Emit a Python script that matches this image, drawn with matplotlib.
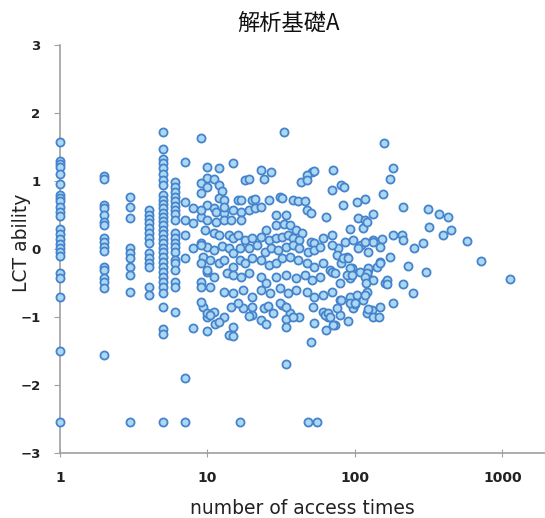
import numpy as np
import matplotlib
matplotlib.use("Agg")
import matplotlib.pyplot as plt
from matplotlib.ticker import FixedLocator, NullLocator

# students with few accesses (integer counts line up in columns)
ability_1 = [1.58, 1.30, 1.25, 1.20, 1.10, 0.95, 0.80, 0.75, 0.70, 0.62, 0.55, 0.48,
             0.30, 0.22, 0.15, 0.08, 0.02, -0.05, -0.10, -0.35, -0.42, -0.70, -1.50, -2.55]
ability_2 = [1.07, 1.03, 0.65, 0.60, 0.50, 0.40, 0.35, 0.16, 0.10, 0.03, -0.03,
             -0.26, -0.31, -0.43, -0.48, -0.57, -1.56]
ability_3 = [0.76, 0.62, 0.45, 0.01, -0.06, -0.13, -0.26, -0.38, -0.63, -2.55]
ability_4 = [0.57, 0.50, 0.44, 0.38, 0.31, 0.24, 0.16, 0.09, -0.06, -0.13, -0.20,
             -0.26, -0.56, -0.68]
ability_5 = [1.72, 1.47, 1.32, 1.26, 1.19, 1.10, 1.01, 0.94, 0.79, 0.72, 0.66, 0.60,
             0.53, 0.47, 0.41, 0.35, 0.28, 0.22, 0.15, 0.09, 0.01, -0.04, -0.12,
             -0.19, -0.26, -0.34, -0.41, -0.49, -0.56, -0.65, -0.85, -1.18, -1.25, -2.55]
ability_6 = [0.98, 0.91, 0.84, 0.76, 0.70, 0.63, 0.57, 0.51, 0.43, 0.24, 0.16, 0.09,
             0.03, -0.04, -0.16, -0.21, -0.31, -0.49, -0.56, -0.93]
ability_7 = [1.28, 0.69, 0.43, 0.21, -0.13, -1.90, -2.55]
ability_8 = [0.60, 0.38, 0.01, -1.16]

# students with more accesses: (access count, ability)
others = [
    (9, 1.64), (33, 1.72), (157, 1.56), (10, 1.21), (12, 1.19), (15, 1.26), (23, 1.16),
    (27, 1.13), (51, 1.13), (53, 1.15), (47, 1.09), (71, 1.16), (181, 1.19), (173, 1.03),
    (18, 1.01), (19, 1.03), (24, 1.03), (43, 0.99), (47, 1.01), (70, 0.87), (81, 0.94),
    (84, 0.91), (155, 0.81), (10, 1.04), (11, 1.03), (9, 0.97), (10, 0.91), (12, 0.94),
    (12.5, 0.85), (12, 0.75), (13, 0.72), (16, 0.72), (17, 0.72), (20, 0.72), (21, 0.74),
    (26, 0.72), (31, 0.76), (32, 0.75), (38, 0.72), (41, 0.71), (46, 0.71), (83, 0.65),
    (103, 0.69), (117, 0.74), (10, 0.65), (11, 0.60), (11.5, 0.54), (13, 0.53), (13, 0.62),
    (15, 0.57), (17, 0.54), (19, 0.57), (21, 0.60), (23, 0.62), (29, 0.50), (34, 0.50),
    (47, 0.57), (50, 0.53), (64, 0.47), (105, 0.46), (117, 0.43), (132, 0.51), (9, 0.47),
    (10, 0.43), (11.5, 0.40), (13, 0.43), (14.5, 0.43), (17, 0.43), (25, 0.28), (29, 0.35),
    (33, 0.37), (36, 0.35), (40, 0.28), (44, 0.24), (92, 0.29), (113, 0.31), (120, 0.40),
    (181, 0.21), (152, 0.15), (9.6, 0.28), (11, 0.24), (12, 0.21), (14, 0.21), (15, 0.16),
    (16, 0.21), (18, 0.13), (20, 0.16), (23, 0.18), (26, 0.13), (29, 0.16), (32, 0.18),
    (35, 0.21), (38, 0.16), (42, 0.13), (50, 0.10), (53, 0.09), (61, 0.16), (70, 0.21),
    (77, 0.01), (86, 0.10), (97, 0.13), (110, 0.06), (132, 0.13), (9, 0.09), (10, 0.03),
    (11, -0.01), (12.5, 0.04), (14, 0.01), (15, -0.06), (16.6, 0.01), (19, 0.01),
    (21.5, 0.06), (24.5, -0.04), (27, 0.01), (30, -0.01), (34, 0.03), (38, 0.06),
    (42, 0.01), (48, -0.04), (53, -0.01), (58, 0.03), (70, 0.06), (75, -0.09), (88, -0.12),
    (105, 0.01), (122, -0.04), (148, 0.03), (173, -0.12), (9.3, -0.12), (10.4, -0.16),
    (12, -0.21), (13, -0.16), (15, -0.26), (16.6, -0.16), (18, -0.21), (20, -0.13),
    (23, -0.16), (26, -0.24), (29, -0.21), (32, -0.13), (36, -0.12), (41, -0.16),
    (47, -0.21), (53, -0.26), (61, -0.21), (68, -0.31), (81, -0.21), (95, -0.28),
    (108, -0.34), (122, -0.31), (140, -0.26), (148, -0.19), (10, -0.34), (11, -0.41),
    (13.5, -0.35), (15, -0.38), (17, -0.41), (19, -0.35), (23, -0.41), (25, -0.50),
    (29, -0.41), (34, -0.38), (40, -0.43), (46, -0.38), (51, -0.46), (58, -0.41),
    (70, -0.34), (79, -0.50), (92, -0.43), (120, -0.38), (132, -0.46), (160, -0.50),
    (9, -0.49), (10.4, -0.56), (13, -0.63), (15, -0.65), (17.4, -0.60), (20, -0.71),
    (23, -0.60), (26.5, -0.65), (31, -0.57), (35, -0.65), (40, -0.60), (47, -0.63),
    (53, -0.71), (61, -0.68), (70, -0.63), (79, -0.75), (92, -0.71), (103, -0.68),
    (113, -0.75), (130, -0.90), (9.3, -0.85), (11, -0.93), (14.5, -0.85), (17.4, -0.87),
    (20, -0.97), (24, -0.87), (28, -0.94), (32, -0.82), (36, -0.94), (42, -1.00),
    (52, -0.85), (61, -0.93), (66, -1.00), (79, -0.97), (97, -0.87), (120, -0.94),
    (148, -0.85), (181, -0.79), (10, -1.00), (13, -1.00),
    (9, 0.82), (9, 0.57), (9, 0.06), (9, -0.21), (9, -0.56), (9, -0.78), (10, -0.31),
    (211, 0.62), (313, 0.59), (371, 0.51), (427, 0.47), (318, 0.32), (395, 0.21),
    (448, 0.28), (574, 0.12), (208, 0.21), (211, 0.13), (289, 0.09), (251, 0.01),
    (132, 0.10), (117, 0.10), (148, -0.21), (229, -0.25), (303, -0.34), (715, -0.18),
    (122, -0.28), (120, -0.35), (117, -0.41), (165, -0.46), (165, -0.51), (211, -0.51),
    (247, -0.65), (1125, -0.44), (119, -0.50), (120, -0.63), (122, -0.88), (132, -1.00),
    (145, -1.00), (83, -0.13), (90, -0.13), (92, -0.28), (88, -0.38), (95, -0.38),
    (73, -0.35), (80, -0.75), (117, -0.68), (100, -0.81), (75, -0.87), (90, -1.06),
    (73, -1.12),
    (10, -0.94), (10.4, -0.97), (10, -1.21), (11.2, -1.10), (12, -1.07), (15, -1.15),
    (14, -1.26), (15, -1.28), (16, -0.79), (19, -0.99), (20, -0.85), (23, -1.04),
    (25, -1.10), (25.7, -0.84), (31, -0.79), (34, -0.85), (34, -1.03), (34, -1.15),
    (34, -1.69), (38, -1.00), (50, -1.37), (53, -1.09), (64, -1.19), (63, -0.97),
    (66, -0.94), (68, -1.00), (71, -1.12), (92, -0.79), (100, -0.79),
    (16.6, -2.55), (48, -2.55), (55, -2.55),
]

columns = {1: ability_1, 2: ability_2, 3: ability_3, 4: ability_4,
           5: ability_5, 6: ability_6, 7: ability_7, 8: ability_8}

access = []
ability = []
for count, vals in columns.items():
    access += [count] * len(vals)
    ability += vals
access += [p[0] for p in others]
ability += [p[1] for p in others]

fig = plt.figure(figsize=(5.45, 5.18), dpi=100)
ax = fig.add_axes([0.110, 0.1255, 0.89, 0.7875])

ax.scatter(access, ability, s=34, facecolor='#acd8f3', edgecolor='#4583cc',
           linewidth=1.3, zorder=3, clip_on=False)

ax.set_xscale('log')
ax.set_xlim(1, 10 ** (485 / 147.5))
ax.set_ylim(-3, 3)

ax.xaxis.set_major_locator(FixedLocator([1, 10, 100, 1000]))
ax.xaxis.set_minor_locator(NullLocator())
ax.set_xticklabels(['1', '10', '100', '1000'])
ax.set_yticks([-3, -2, -1, 0, 1, 2, 3])

for side in ['top', 'right']:
    ax.spines[side].set_visible(False)
for side in ['left', 'bottom']:
    ax.spines[side].set_color('#a0a0a0')
    ax.spines[side].set_linewidth(1.2)

ax.tick_params(axis='y', direction='out', length=4, color='#a0a0a0', pad=10,
               labelsize=9.5, labelcolor='#222222')
ax.tick_params(axis='x', direction='inout', length=6, color='#a0a0a0', pad=10,
               labelsize=10, labelcolor='#222222')
for lab in ax.get_yticklabels() + ax.get_xticklabels():
    lab.set_fontweight('bold')

ax.set_xlabel('number of access times', fontsize=13.5, color='#222222', labelpad=10)
ax.set_ylabel('LCT ability', fontsize=13.5, color='#222222')
ax.yaxis.set_label_coords(-0.06, 0.515)

fig.text(0.529, 0.956, '解析基礎A', ha='center', va='center', fontsize=16,
         family=['Noto Sans CJK JP', 'DejaVu Sans'], color='#111111')

fig.savefig('out.png', dpi=100)
